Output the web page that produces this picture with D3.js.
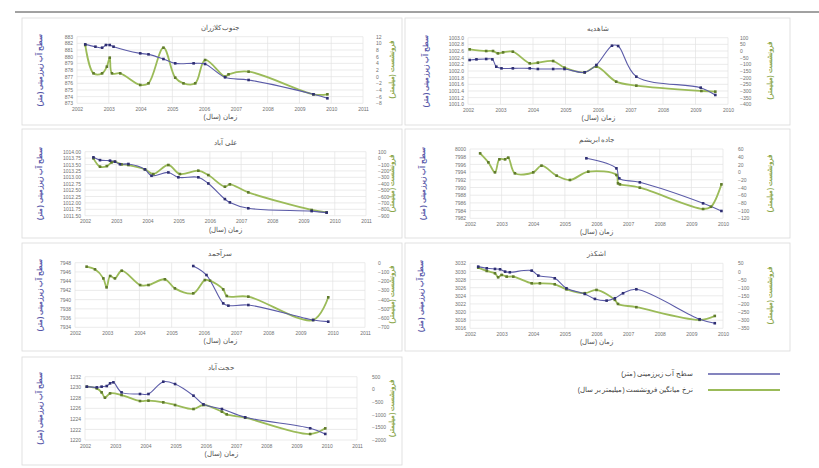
<!DOCTYPE html>
<html><head><meta charset="utf-8">
<script src="https://cdn.jsdelivr.net/npm/d3@7"></script>
<style>body{margin:0;background:#fff}svg{display:block;font-family:"Liberation Sans","Noto Sans",sans-serif}</style>
</head><body><svg id="c" width="819" height="468"></svg>
<script>
// ---------- DATA ----------
const titles = ["جنوب کلازران","شاهدیه","علی آباد","جاده ابریشم","سرآحمد","اشکذر","حجت آباد"];
const leftAxisTitle = "سطح آب زیرزمینی (متر)";
const rightAxisTitle = "فرونشست (میلیمتر)";
const xAxisTitle = "زمان (سال)";
const legendLabels = ["سطح آب زیرزمینی (متر)","نرخ میانگین فرونشست (میلیمتر بر سال)"];

const xTicksLeftCol = [2002,2003,2004,2005,2006,2007,2008,2009,2010,2011];
const xTicksRightCol = [2002,2003,2004,2005,2006,2007,2008,2009,2010];

// panel 1
const p1LevelX = [2002.26,2002.58,2002.79,2002.91,2003.03,2003.15,2003.99,2004.25,2004.72,2005.09,2005.67,2006.03,2006.66,2007.40,2009.44,2009.88];
const p1Level  = [881.85,881.5,881.35,881.75,881.75,881.5,880.5,880.35,879.65,879.0,879.0,878.9,876.9,876.5,874.35,873.75];
const p1SubX = [2002.26,2002.52,2002.79,2002.94,2003.03,2003.10,2003.36,2003.99,2004.25,2004.72,2005.09,2005.35,2005.72,2006.03,2006.66,2006.77,2007.40,2009.44,2009.88];
const p1Sub  = [9.5,1.0,1.0,3.0,5.7,1.0,1.0,-2.5,-2.0,8.7,-0.3,-2.0,-2.0,5.0,0.0,0.7,1.5,-5.3,-5.3];
const p1LeftTicks = [873,874,875,876,877,878,879,880,881,882,883];
const p1RightTicks = [-8,-6,-4,-2,0,2,4,6,8,10,12];

// panel 2
const p2LevelX = [2002.05,2002.26,2002.56,2002.75,2002.87,2003.03,2003.38,2003.90,2004.15,2004.62,2004.97,2005.59,2005.95,2006.43,2006.62,2007.18,2009.16,2009.61];
const p2Level  = [1002.33,1002.35,1002.36,1002.35,1002.13,1002.08,1002.08,1002.08,1002.06,1002.06,1002.06,1001.96,1002.18,1002.76,1002.75,1001.83,1001.5,1001.28];
const p2SubX = [2002.05,2002.56,2002.77,2002.92,2003.08,2003.38,2003.90,2004.15,2004.62,2004.97,2005.59,2005.95,2006.56,2007.18,2009.18,2009.61];
const p2Sub  = [12.5,0,0,-17.5,-10,-5,-92.5,-87.5,-75,-125,-160,-117.5,-230,-260,-300,-305];
const p2LeftTicks = [1001.0,1001.2,1001.4,1001.6,1001.8,1002.0,1002.2,1002.4,1002.6,1002.8,1003.0];
const p2RightTicks = [-400,-350,-300,-250,-200,-150,-100,-50,0,50,100];

// panel 3
const p3LevelX = [2002.27,2002.48,2002.80,2002.96,2003.12,2003.39,2003.92,2004.13,2004.67,2004.99,2005.63,2005.95,2006.48,2006.64,2007.23,2009.26,2009.74];
const p3Level  = [1013.78,1013.67,1013.65,1013.61,1013.51,1013.52,1013.31,1013.06,1013.19,1013.0,1013.0,1012.76,1012.15,1012.02,1011.79,1011.68,1011.62];
const p3SubX = [2002.27,2002.48,2002.70,2002.85,2002.96,2003.17,2003.39,2003.92,2004.19,2004.67,2005.04,2005.63,2005.95,2006.48,2006.64,2007.23,2009.26,2009.74];
const p3Sub  = [-4,-134,-125,-67,-56,-98,-108,-176,-249,-108,-249,-197,-265,-447,-410,-535,-811,-848];
const p3LeftTicks = [1011.5,1011.75,1012.0,1012.25,1012.5,1012.75,1013.0,1013.25,1013.5,1013.75,1014.0];
const p3RightTicks = [-900,-800,-700,-600,-500,-400,-300,-200,-100,0,100];

// panel 4
const p4LevelX = [2005.68,2006.63,2006.72,2007.37,2009.37,2009.95];
const p4Level  = [7997.58,7994.98,7992.38,7991.34,7985.89,7983.9];
const p4SubX = [2002.32,2002.58,2002.79,2002.93,2003.11,2003.21,2003.42,2004.0,2004.26,2004.74,2005.16,2005.74,2006.63,2006.68,2006.74,2007.37,2009.37,2009.62,2009.95];
const p4Sub  = [48.7,25.4,-0.6,33.2,33.2,37.5,-3.2,-0.6,16.7,-9.3,-20.5,1.1,-7.5,-29.2,-31.8,-40.4,-95.8,-90,-31.8];
const p4LeftTicks = [7982,7984,7986,7988,7990,7992,7994,7996,7998,8000];
const p4RightTicks = [-120,-100,-80,-60,-40,-20,0,20,40,60];

// panel 5
const p5LevelX = [2005.67,2006.08,2006.60,2006.76,2007.38,2009.39,2009.86];
const p5Level  = [7947.28,7945.33,7939.19,7938.69,7938.83,7935.58,7935.22];
const p5SubX = [2002.36,2002.62,2002.88,2002.98,2003.09,2003.24,2003.45,2004.02,2004.28,2004.79,2005.10,2005.67,2006.03,2006.19,2006.60,2006.71,2007.38,2009.39,2009.86];
const p5Sub  = [-43,-72,-170,-267,-144,-170,-87,-242,-242,-180,-278,-332,-188,-195,-289,-361,-368,-621,-375];
const p5LeftTicks = [7934,7936,7938,7940,7942,7944,7946,7948];
const p5RightTicks = [-700,-600,-500,-400,-300,-200,-100,0];

// panel 6
const p6LevelX = [2002.26,2002.53,2002.79,2002.95,2003.11,2003.26,2003.95,2004.16,2004.68,2005.05,2005.63,2005.95,2006.32,2006.58,2006.84,2007.26,2009.26,2009.74];
const p6Level  = [3031.18,3030.77,3030.61,3030.52,3029.95,3029.79,3030.2,3028.97,3028.31,3025.85,3024.46,3023.23,3022.82,3023.39,3024.62,3025.6,3018.23,3017.25];
const p6SubX = [2002.26,2002.53,2002.79,2002.89,2003.0,2003.16,2003.37,2003.95,2004.21,2004.68,2005.05,2005.63,2006.0,2006.58,2006.68,2007.26,2009.26,2009.74];
const p6Sub  = [23.4,2.9,-11.5,-36,-21.7,-32,-32,-73,-73,-79,-110,-134,-114,-175,-200,-220,-298,-274];
const p6LeftTicks = [3016,3018,3020,3022,3024,3026,3028,3030,3032];
const p6RightTicks = [-350,-300,-250,-200,-150,-100,-50,0,50];

// panel 7
const p7LevelX = [2002.06,2002.39,2002.55,2002.72,2002.83,2002.94,2003.21,2003.82,2004.10,2004.59,2004.98,2005.59,2005.92,2006.53,2007.30,2009.45,2009.95];
const p7Level  = [1230.11,1229.98,1230.11,1230.23,1230.74,1230.93,1229.03,1228.72,1228.72,1231.05,1230.61,1228.4,1226.76,1225.88,1224.3,1222.22,1221.15];
const p7SubX = [2002.06,2002.39,2002.55,2002.66,2002.83,2003.21,2003.82,2004.10,2004.59,2004.98,2005.59,2005.92,2006.53,2006.69,2007.30,2009.45,2009.95];
const p7Sub  = [105,39,-118,-329,-158,-224,-461,-447,-513,-618,-776,-618,-882,-987,-1119,-1764,-1540];
const p7LeftTicks = [1220,1222,1224,1226,1228,1230,1232];
const p7RightTicks = [-2000,-1500,-1000,-500,0,500];

// ---------- LAYOUT ----------
const panels = [
  {lx:p1LevelX, ly:p1Level, sx:p1SubX, sy:p1Sub, lt:p1LeftTicks, rt:p1RightTicks, xt:xTicksLeftCol, lf:"d",
   box:[22,18,380,107], x0:77, x1:363, y0:36.7, y1:103.3, rlx:376, ltx:42, rtx:394},
  {lx:p2LevelX, ly:p2Level, sx:p2SubX, sy:p2Sub, lt:p2LeftTicks, rt:p2RightTicks, xt:xTicksRightCol, lf:".1f",
   box:[405,18,385,107], x0:468, x1:728, y0:37.7, y1:104.3, rlx:740, ltx:428, rtx:772},
  {lx:p3LevelX, ly:p3Level, sx:p3SubX, sy:p3Sub, lt:p3LeftTicks, rt:p3RightTicks, xt:xTicksLeftCol, lf:".2f",
   box:[22,129,380,109], x0:85, x1:366, y0:151.7, y1:215.7, rlx:378, ltx:42, rtx:394},
  {lx:p4LevelX, ly:p4Level, sx:p4SubX, sy:p4Sub, lt:p4LeftTicks, rt:p4RightTicks, xt:xTicksRightCol, lf:"d",
   box:[405,129,385,109], x0:470, x1:723, y0:149, y1:218.3, rlx:738, ltx:425, rtx:772},
  {lx:p5LevelX, ly:p5Level, sx:p5SubX, sy:p5Sub, lt:p5LeftTicks, rt:p5RightTicks, xt:xTicksLeftCol, lf:"d",
   box:[22,243,380,108], x0:75, x1:365, y0:262.7, y1:327.3, rlx:378, ltx:42, rtx:394},
  {lx:p6LevelX, ly:p6Level, sx:p6SubX, sy:p6Sub, lt:p6LeftTicks, rt:p6RightTicks, xt:xTicksRightCol, lf:"d",
   box:[405,243,385,108], x0:470, x1:723, y0:263.3, y1:328.3, rlx:738, ltx:423, rtx:772},
  {lx:p7LevelX, ly:p7Level, sx:p7SubX, sy:p7Sub, lt:p7LeftTicks, rt:p7RightTicks, xt:xTicksLeftCol, lf:"d",
   box:[22,357,380,108], x0:85, x1:357, y0:376.7, y1:440, rlx:372, ltx:42, rtx:394}
];

const BLUE = "#5b5ba8", BLUE_M = "#2e2e72", GREEN = "#9bbb59", GREEN_M = "#5f7a2c";
const svg = d3.select("#c");

// top rule
svg.append("line").attr("x1",15).attr("x2",819).attr("y1",12).attr("y2",12).attr("stroke","#444").attr("stroke-width",1);

panels.forEach((p,i)=>{
  const g = svg.append("g");
  const [bx,by,bw,bh] = p.box;
  g.append("rect").attr("x",bx).attr("y",by).attr("width",bw).attr("height",bh)
    .attr("fill","#fff").attr("stroke","#d9d9d9").attr("stroke-width",0.8);

  const x = d3.scaleLinear().domain([p.xt[0], p.xt[p.xt.length-1]]).range([p.x0,p.x1]);
  const yL = d3.scaleLinear().domain([p.lt[0], p.lt[p.lt.length-1]]).range([p.y1,p.y0]);
  const yR = d3.scaleLinear().domain([p.rt[0], p.rt[p.rt.length-1]]).range([p.y1,p.y0]);

  // gridlines
  g.append("g").selectAll("line").data(p.xt).join("line")
    .attr("x1",d=>x(d)).attr("x2",d=>x(d)).attr("y1",p.y0).attr("y2",p.y1)
    .attr("stroke","#e3e3e3").attr("stroke-width",0.7);
  g.append("g").selectAll("line").data(p.lt).join("line")
    .attr("x1",p.x0).attr("x2",p.x1).attr("y1",d=>yL(d)).attr("y2",d=>yL(d))
    .attr("stroke","#e3e3e3").attr("stroke-width",0.7);

  // axes
  const fs = "5px";
  const xa = g.append("g").attr("transform",`translate(0,${p.y1})`)
    .call(d3.axisBottom(x).tickValues(p.xt).tickSize(0).tickPadding(4).tickFormat(d3.format("d")));
  const la = g.append("g").attr("transform",`translate(${p.x0},0)`)
    .call(d3.axisLeft(yL).tickValues(p.lt).tickSize(0).tickPadding(4).tickFormat(d3.format(p.lf)));
  const ra = g.append("g").attr("transform",`translate(${p.rlx-3},0)`)
    .call(d3.axisRight(yR).tickValues(p.rt).tickSize(0).tickPadding(3).tickFormat(d3.format("d")));
  [xa,la,ra].forEach(a=>{
    a.select(".domain").remove();
    a.selectAll("text").attr("font-size",fs).attr("fill","#707070").attr("font-family","Liberation Sans, sans-serif");
  });

  // title
  const cx = (p.x0+p.x1)/2;
  g.append("text").attr("x",cx).attr("y",p.y0-7).attr("text-anchor","middle")
    .attr("direction","rtl").attr("font-size","6.5px").attr("fill","#505050").text(titles[i]);
  g.append("text").attr("x",cx).attr("y",p.y1+16).attr("text-anchor","middle")
    .attr("direction","rtl").attr("font-size","6.5px").attr("fill","#505050").text(xAxisTitle);
  const cy = (p.y0+p.y1)/2;
  g.append("text").attr("transform",`translate(${p.ltx},${cy}) rotate(-90)`).attr("text-anchor","middle")
    .attr("direction","rtl").attr("font-size","7px").attr("font-weight","bold").attr("fill","#5656a8").text(leftAxisTitle);
  g.append("text").attr("transform",`translate(${p.rtx},${cy}) rotate(-90)`).attr("text-anchor","middle")
    .attr("direction","rtl").attr("font-size","6.5px").attr("font-weight","bold").attr("fill","#8aa64a").text(rightAxisTitle);

  // series
  const curve = d3.curveCatmullRom.alpha(0.5);
  const sub = p.sx.map((v,k)=>[v,p.sy[k]]);
  const lev = p.lx.map((v,k)=>[v,p.ly[k]]);
  g.append("path").datum(sub).attr("fill","none").attr("stroke",GREEN).attr("stroke-width",1.8)
    .attr("d",d3.line().x(d=>x(d[0])).y(d=>yR(d[1])).curve(curve));
  g.append("path").datum(lev).attr("fill","none").attr("stroke",BLUE).attr("stroke-width",1.1)
    .attr("d",d3.line().x(d=>x(d[0])).y(d=>yL(d[1])).curve(curve));
  g.append("g").selectAll("rect").data(sub).join("rect")
    .attr("x",d=>x(d[0])-1.3).attr("y",d=>yR(d[1])-1.3).attr("width",2.6).attr("height",2.6)
    .attr("fill",GREEN_M);
  g.append("g").selectAll("rect").data(lev).join("rect")
    .attr("x",d=>x(d[0])-1.3).attr("y",d=>yL(d[1])-1.3).attr("width",2.6).attr("height",2.6)
    .attr("fill",BLUE_M);
});

// legend
const leg = svg.append("g");
[[BLUE,374,1.5],[GREEN,390,2]].forEach((c,k)=>{
  leg.append("line").attr("x1",708).attr("x2",780).attr("y1",c[1]).attr("y2",c[1])
    .attr("stroke",c[0]).attr("stroke-width",c[2]);
  leg.append("text").attr("x",693).attr("y",c[1]+2).attr("text-anchor","start").attr("direction","rtl")
    .attr("font-size","6.5px").attr("fill","#404040").text(legendLabels[k]);
});
</script></body></html>
